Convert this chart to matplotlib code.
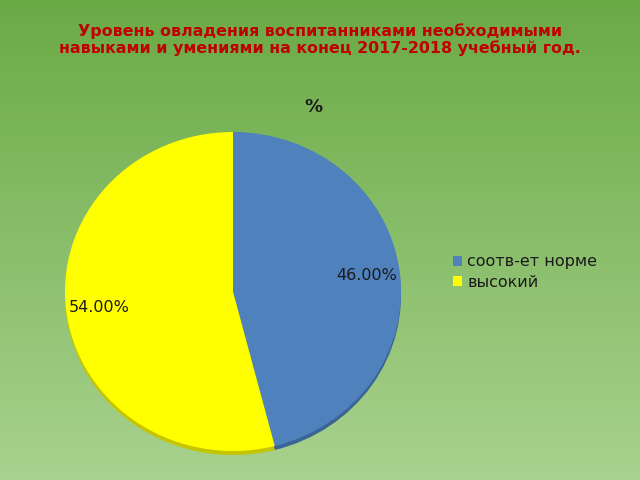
import numpy as np
import matplotlib
matplotlib.use('Agg')
import matplotlib.pyplot as plt
from matplotlib.colors import LinearSegmentedColormap

# data
categories = ['соотв-ет норме', 'высокий']
values = [46.0, 54.0]
colors = ['#4f81bd', '#ffff00']
shadow_colors = ['#3b6494', '#c4c400']
title = 'Уровень овладения воспитанниками необходимыми\nнавыками и умениями на конец 2017-2018 учебный год.'

fig = plt.figure(figsize=(6.4, 4.8), dpi=100)

# green gradient background
bg = fig.add_axes([0, 0, 1, 1])
cmap = LinearSegmentedColormap.from_list('bg', ['#6aaa45', '#a8d28e'])
grad = np.linspace(0, 1, 256).reshape(-1, 1)
bg.imshow(grad, aspect='auto', cmap=cmap, extent=[0, 1, 0, 1], origin='upper')
bg.axis('off')

fig.text(0.5, 0.918, title, ha='center', va='center', color='#c00000',
         fontsize=11.4, fontweight='bold', linespacing=1.12)
fig.text(0.489, 0.777, '%', ha='center', va='center', color='#1a1a1a',
         fontsize=13, fontweight='bold')

ax = fig.add_axes([65 / 640, 25 / 480, 336 / 640, 323 / 480])

# shadow edge for 3D look
ax.pie(values, colors=shadow_colors, startangle=90, counterclock=False,
       center=(0, -0.025), radius=1.0, wedgeprops=dict(linewidth=0))
wedges, texts, autotexts = ax.pie(values, colors=colors, startangle=90,
                                  counterclock=False, radius=1.0,
                                  autopct='%.2f%%', pctdistance=0.8,
                                  wedgeprops=dict(linewidth=0),
                                  textprops=dict(fontsize=11.5, color='#1a1a1a'))
ax.set_xlim(-1, 1)
ax.set_ylim(-1.025, 1)
ax.set_aspect('auto')

fig.legend(wedges, categories, loc='upper left', bbox_to_anchor=(0.685, 0.5),
           frameon=False, fontsize=11.5, handlelength=0.6, handleheight=0.6,
           handletextpad=0.3, labelspacing=0.35, labelcolor='#1a1a1a')

fig.savefig('out.png', dpi=100)
